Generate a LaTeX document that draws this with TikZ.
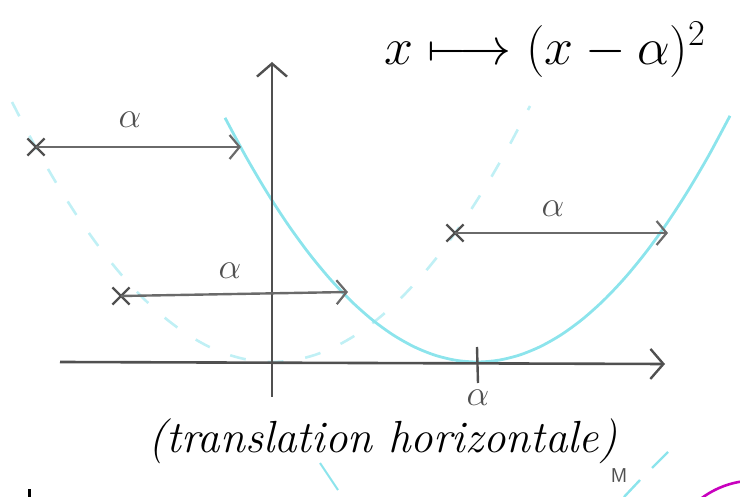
\RequirePackage{fix-cm}
\documentclass[tikz,border=0pt]{standalone}
\usepackage{amsmath}
\usetikzlibrary{arrows.meta,shapes.misc}
\definecolor{pencil}{RGB}{80,80,80}
\definecolor{feutre}{RGB}{140,228,236}
\definecolor{rose}{RGB}{200,0,190}
\tikzset{
    axe/.style={pencil, line width=2.6pt, -{Straight Barb[length=13pt,width=30pt,line width=2.4pt]}},
    decal/.style={pencil!85, line width=2.4pt, -{Straight Barb[length=10pt,width=24pt,line width=2.2pt]}},
    croix/.style={cross out, draw=pencil, line width=2.2pt, minimum size=15pt, inner sep=0pt},
    lettre/.style={font=\fontsize{36}{40}\selectfont, pencil, inner sep=1pt}
}
\begin{document}
\begin{tikzpicture}[x=1pt, y=-1pt]
    \useasboundingbox (0,0) rectangle (740,497);
    % parabole de depart et parabole translatee
    \draw[feutre!55, line width=2.6pt, dash pattern=on 16pt off 22pt, domain=12:530, smooth, variable=\x] plot ({\x}, {362 - ((\x-272)/16.125)^2});
    \draw[feutre, line width=2.8pt, domain=225:730, smooth, variable=\x] plot ({\x}, {362 - ((\x-477)/16.125)^2});
    % axes
    \draw[axe] (60,362) -- (665,364);
    \draw[axe] (272,397) -- (272,62);
    \draw[pencil, line width=2.4pt] (477,347) -- (478,383);
    \node[lettre] (alpha) at (478,398) {$\alpha$};
    % fleches de longueur alpha
    \node[croix] (x1) at (36,147) {};
    \coordinate (y1) at (241,147);
    \draw[decal] (x1.center) -- (y1);
    \node[lettre] (a1) at (130,120) {$\alpha$};
    \node[croix] (x2) at (121,296) {};
    \coordinate (y2) at (348,292);
    \draw[decal] (x2.center) -- (y2);
    \node[lettre] (a2) at (230,271) {$\alpha$};
    \node[croix] (x3) at (455,233) {};
    \coordinate (y3) at (668,233);
    \draw[decal] (x3.center) -- (y3);
    \node[lettre] (a3) at (553,209) {$\alpha$};
    % textes
    \node[font=\fontsize{52}{56}\selectfont, inner sep=0pt] (fct) at (545,50) {$x \longmapsto (x - \alpha)^{2}$};
    \node[font=\fontsize{45}{50}\selectfont\itshape, inner sep=0pt] (titre) at (383,441) {(translation horizontale)};
    % bouts de la page voisine
    \node[pencil, font=\fontsize{20}{22}\selectfont\sffamily] (m) at (619,476) {M};
    \draw[feutre, line width=2.4pt] (668,452) -- (652,468) (640,480) -- (624,497);
    \draw[feutre, line width=2pt] (320,463) -- (338,490);
    \draw[rose, line width=2.6pt] (755,570) circle (89.5);
    \draw[black, line width=3pt] (29,489) -- (29,497);
\end{tikzpicture}
\end{document}
